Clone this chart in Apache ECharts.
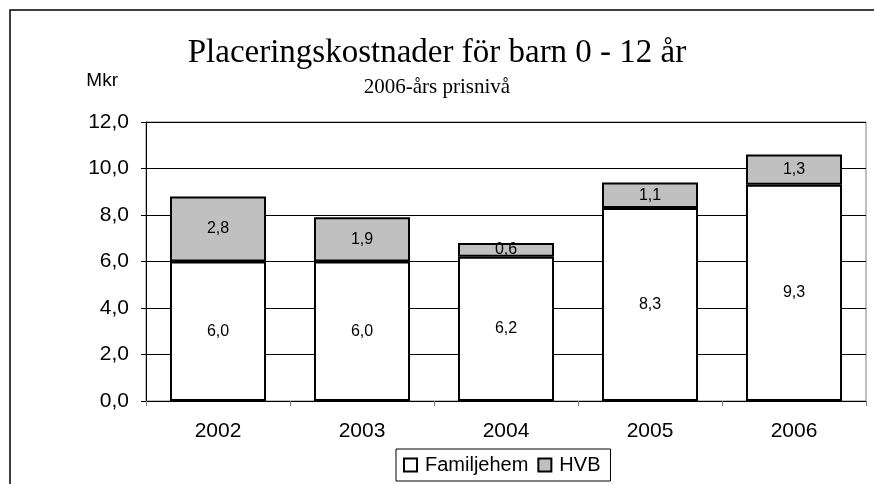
<!DOCTYPE html>
<html>
<head>
<meta charset="utf-8">
<script src="https://cdn.jsdelivr.net/npm/echarts@6/dist/echarts.min.js"></script>
<style>
  html, body { margin: 0; padding: 0; background: #fff; }
  #chart { width: 874px; height: 484px; }
</style>
</head>
<body>
<div id="chart"></div>
<script>
// data
const years = ['2002', '2003', '2004', '2005', '2006'];
const familjehem = [6.0, 6.0, 6.2, 8.3, 9.3];
const hvb = [2.8, 1.9, 0.6, 1.1, 1.3];

const sans = 'Liberation Sans';
const serif = 'Liberation Serif';

// 6,0 style numbers
const comma = v => Number(v).toFixed(1).replace('.', ',');

const barLabel = {
  show: true,
  position: 'inside',
  color: '#000',
  fontFamily: sans,
  fontSize: 16,
  formatter: p => comma(p.value)
};

const chart = echarts.init(document.getElementById('chart'));

const option = {
  animation: false,
  backgroundColor: '#fff',
  title: {
    text: 'Placeringskostnader för barn 0 - 12 år',
    subtext: '2006-års prisnivå',
    left: 'center',
    top: 32,
    itemGap: 7,
    textStyle: { fontFamily: serif, fontSize: 33, fontWeight: 'normal', color: '#000' },
    subtextStyle: { fontFamily: serif, fontSize: 21, color: '#000' }
  },
  graphic: [{
    // outer frame of the chart
    type: 'rect',
    silent: true,
    shape: { x: 10, y: 10, width: 900, height: 520 },
    style: { fill: 'none', stroke: '#000', lineWidth: 1.5 }
  }],
  legend: {
    left: 396,
    top: 449,
    itemWidth: 13,
    itemHeight: 13,
    itemGap: 9,
    padding: [6, 10, 6, 7],
    borderColor: '#000',
    borderWidth: 1,
    icon: 'rect',
    textStyle: { fontFamily: sans, fontSize: 20, color: '#000', padding: [0, 0, 0, 3] },
    data: ['Familjehem', 'HVB']
  },
  grid: {
    left: 146,
    right: 8,
    top: 122,
    bottom: 83,
    show: true,
    borderColor: '#808080',
    borderWidth: 1
  },
  xAxis: {
    type: 'category',
    data: years,
    axisLine: { lineStyle: { color: '#000', width: 1 } },
    axisTick: { show: true, length: 5, lineStyle: { color: '#808080' } },
    axisLabel: { color: '#000', fontFamily: sans, fontSize: 21, margin: 20 }
  },
  yAxis: {
    type: 'value',
    min: 0,
    max: 12,
    interval: 2,
    name: 'Mkr',
    nameLocation: 'end',
    nameGap: 41,
    nameTextStyle: {
      fontFamily: sans, fontSize: 19, color: '#000',
      align: 'right', verticalAlign: 'middle', padding: [0, 28, 0, 0]
    },
    axisLine: { show: true, lineStyle: { color: '#000', width: 1 } },
    axisTick: { show: true, length: 5, lineStyle: { color: '#000' } },
    axisLabel: { color: '#000', fontFamily: sans, fontSize: 21, margin: 17, formatter: comma },
    splitLine: { show: true, lineStyle: { color: '#000', width: 1 } }
  },
  series: [
    {
      name: 'Familjehem',
      type: 'bar',
      stack: 'total',
      barWidth: '66.7%',
      data: familjehem,
      itemStyle: { color: '#fff', borderColor: '#000', borderWidth: 2 },
      label: barLabel
    },
    {
      name: 'HVB',
      type: 'bar',
      stack: 'total',
      data: hvb,
      itemStyle: { color: '#c0c0c0', borderColor: '#000', borderWidth: 2 },
      label: barLabel
    }
  ]
};

chart.setOption(option);
</script>
</body>
</html>
